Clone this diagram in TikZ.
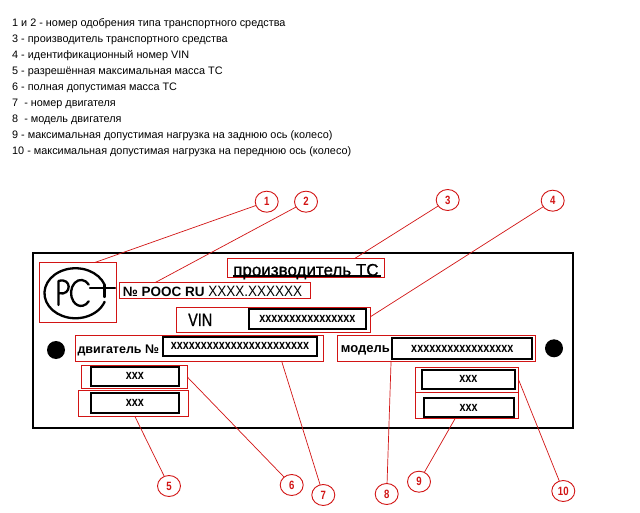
\documentclass[tikz,border=0pt]{standalone}
\usepackage{fontspec}
\setmainfont{Liberation Sans}
\newfontfamily\narrowf[FakeStretch=0.8]{Liberation Sans}
\newfontfamily\midf[FakeStretch=0.9]{Liberation Sans}
\newfontfamily\heavyf[FakeBold=0.8]{Liberation Sans}
\newfontfamily\heavynarrowf[FakeBold=0.8,FakeStretch=0.8]{Liberation Sans}
\usetikzlibrary{shapes.geometric,calc}
\definecolor{lr}{RGB}{210,20,20}
\begin{document}
\begin{tikzpicture}[x=1pt,y=1pt,
 redbox/.style={draw=lr,line width=0.9pt,inner sep=0,outer sep=0,anchor=south west},
 blackbox/.style={draw=black,line width=2pt,inner sep=0,outer sep=0,anchor=south west,font={\narrowf\bfseries\fontsize{13.5}{13.5}\selectfont}},
 num/.style={ellipse,draw=lr,line width=0.9pt,minimum width=23pt,minimum height=21pt,inner sep=0,outer sep=0,text=lr,font={\narrowf\bfseries\fontsize{12}{12}\selectfont}},
 lead/.style={draw=lr,line width=0.7pt},
 legend/.style={anchor=base west,inner sep=0,font={\fontsize{10.85}{10.85}\selectfont}},
 lbl/.style={anchor=base west,inner sep=0},
 dot/.style={circle,fill=black,minimum size=18pt,inner sep=0}
]
\fill[white] (0,0) rectangle (640,512);
\useasboundingbox (0,0) rectangle (640,512);

% legend
\foreach \t [count=\i from 0] in {
 {1 и 2 - номер одобрения типа транспортного средства},
 {3 - производитель транспортного средства},
 {4 - идентификационный номер VIN},
 {5 - разрешённая максимальная масса ТС},
 {6 - полная допустимая масса ТС},
 {7 \ - номер двигателя},
 {8 \ - модель двигателя},
 {9 - максимальная допустимая нагрузка на заднюю ось (колесо)},
 {10 - максимальная допустимая нагрузка на переднюю ось (колесо)}}
 {\node[legend] (leg\i) at (12,{485.3-16*\i}) {\t};}

% plate
\node[draw=black,line width=2.5pt,inner sep=0,outer sep=0,anchor=south west,minimum width=540pt,minimum height=175pt] (plate) at (33,84) {};
\node[dot] (dotL) at (56,162) {};
\node[dot] (dotR) at (554,163.7) {};

% red boxes
\node[redbox,minimum width=76.5pt,minimum height=60.3pt] (r1) at (39.5,189.3) {};
\node[redbox,minimum width=190.5pt,minimum height=15.6pt] (r2) at (119.5,213.7) {};
\node[redbox,minimum width=157pt,minimum height=19pt] (r3) at (227.5,234.7) {};
\node[redbox,minimum width=193.8pt,minimum height=25pt] (r4) at (176.7,179.7) {};
\node[redbox,minimum width=248.3pt,minimum height=26pt] (r7) at (75,151) {};
\node[redbox,minimum width=198.4pt,minimum height=26pt] (r8) at (337.3,151) {};
\node[redbox,minimum width=106.3pt,minimum height=22.6pt] (r5a) at (81,123.7) {};
\node[redbox,minimum width=109.6pt,minimum height=26pt] (r5b) at (78.7,95.3) {};
\node[redbox,minimum width=103.7pt,minimum height=51.4pt] (r9) at (415,93.3) {};
\draw[lr,line width=0.9pt] ($(r9.north west)!0.486!(r9.south west)$) -- ($(r9.north east)!0.486!(r9.south east)$);

% black boxes
\node[blackbox,minimum width=116.7pt,minimum height=20pt] (bVIN) at (249,182.7) {xxxxxxxxxxxxxxxx};
\node[blackbox,minimum width=154.6pt,minimum height=19.3pt] (bD) at (162.7,156) {xxxxxxxxxxxxxxxxxxxxxxx};
\node[blackbox,minimum width=140pt,minimum height=21pt] (bM) at (392.3,152.7) {xxxxxxxxxxxxxxxxx};
\node[blackbox,minimum width=87.7pt,minimum height=19.3pt] (b5a) at (91,126) {xxx};
\node[blackbox,minimum width=87.7pt,minimum height=20pt] (b5b) at (91,98.7) {xxx};
\node[blackbox,minimum width=92.7pt,minimum height=18.7pt] (b9a) at (422,123.3) {xxx};
\node[blackbox,minimum width=90pt,minimum height=19.6pt] (b9b) at (423.7,94.7) {xxx};

% texts
\node[lbl,font={\heavyf\fontsize{17}{17}\selectfont}] (tMaker) at (233,236.2) {производитель ТС};
\draw[line width=1.2pt] ($(r3.south west)+(5.8,1.2)$) -- ($(r3.south east)+(-4,1.2)$);
\node[lbl] (tNum) at (122.7,215.3) {{\bfseries\fontsize{13.5}{13.5}\selectfont № РООС RU }{\midf\fontsize{15}{15}\selectfont XXXX.XXXXXX}};
\node[lbl,font={\heavynarrowf\fontsize{18}{18}\selectfont}] (tVIN) at (188,186) {VIN};
\node[lbl,font={\bfseries\fontsize{12.5}{12.5}\selectfont}] (tEng) at (77.3,158.7) {двигатель №};
\node[lbl,font={\bfseries\fontsize{13}{13}\selectfont}] (tMod) at (340.7,159.3) {модель};

% logo
\begin{scope}[line width=2.3pt,line cap=round,line join=round]
\draw (104.6,227.3) arc[start angle=20,end angle=340,x radius=31,y radius=25];
\draw (104.6,227.3) -- (104.6,223.7);
\draw (90,223.7) -- (115,223.7);
\draw (104.6,223.7) -- (104.6,215);
\draw (58.5,207) -- (58.5,231) .. controls (72,235) and (72,216) .. (59,218.7);
\draw (88.7,227.4) arc[start angle=40,end angle=320,x radius=10,y radius=13];
\end{scope}

% callouts
\node[num] (c1) at (266.7,310.3) {1};
\node[num] (c2) at (306,310.3) {2};
\node[num] (c3) at (447.7,312) {3};
\node[num] (c4) at (552.7,311.3) {4};
\node[num] (c5) at (169,26) {5};
\node[num] (c6) at (291.7,27) {6};
\node[num] (c7) at (323.3,17) {7};
\node[num] (c8) at (386.7,18) {8};
\node[num] (c9) at (419,30.3) {9};
\node[num] (c10) at (563.3,21) {10};

\draw[lead] (c1) -- ($(r1.north west)!0.727!(r1.north east)$);
\draw[lead] (c2) -- ($(r2.north west)!0.186!(r2.north east)$);
\draw[lead] (c3) -- ($(r3.north west)!0.812!(r3.north east)$);
\draw[lead] (c4) -- ($(r4.north east)!0.376!(r4.south east)$);
\draw[lead] (c5) -- ($(r5b.south west)!0.514!(r5b.south east)$);
\draw[lead] (c6) -- (r5a.east);
\draw[lead] (c7) -- ($(r7.south west)!0.832!(r7.south east)$);
\draw[lead] (c8) -- ($(r8.south west)!0.271!(r8.south east)$);
\draw[lead] (c9) -- ($(r9.south west)!0.386!(r9.south east)$);
\draw[lead] (c10) -- ($(r9.north east)!0.247!(r9.south east)$);
\end{tikzpicture}
\end{document}
